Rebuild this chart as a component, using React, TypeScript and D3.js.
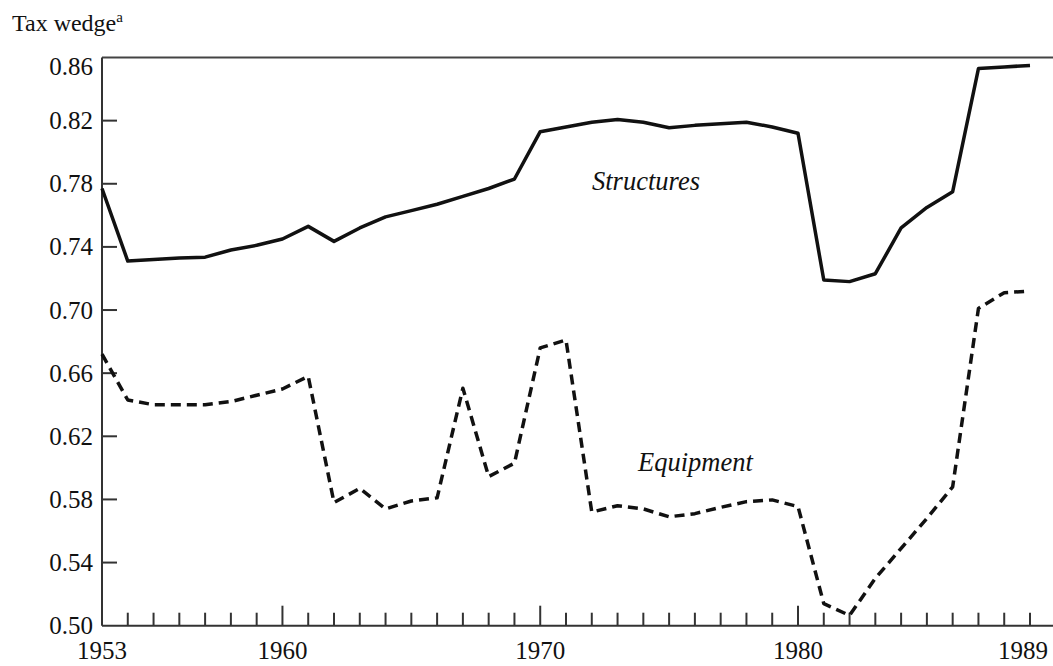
import React from "react";
import * as d3 from "d3";

const years: number[] = d3.range(1953, 1990);
const structures: number[] = [
  0.777, 0.731, 0.732, 0.733, 0.7335, 0.738, 0.741, 0.745, 0.753, 0.7435,
  0.752, 0.759, 0.763, 0.767, 0.772, 0.777, 0.783, 0.813, 0.816, 0.819,
  0.8207, 0.819, 0.8155, 0.817, 0.818, 0.819, 0.816, 0.812, 0.719, 0.718,
  0.723, 0.752, 0.765, 0.775, 0.853, 0.854, 0.855,
];
const equipment: number[] = [
  0.672, 0.643, 0.640, 0.640, 0.640, 0.642, 0.646, 0.650, 0.658, 0.578,
  0.587, 0.574, 0.579, 0.581, 0.6505, 0.5945, 0.603, 0.676, 0.681, 0.572,
  0.576, 0.574, 0.569, 0.571, 0.575, 0.5786, 0.5797, 0.5755, 0.514, 0.5065,
  0.530, 0.549, 0.568, 0.588, 0.701, 0.711, 0.712,
];
const yTicks: number[] = [0.5, 0.54, 0.58, 0.62, 0.66, 0.7, 0.74, 0.78, 0.82, 0.86];
const xLabels: number[] = [1953, 1960, 1970, 1980, 1989];
const majorTicks: number[] = [1960, 1970, 1980];

const W = 1053;
const H = 666;
const FONT = "'Liberation Serif', 'Times New Roman', serif";

export default function App() {
  const x = d3.scaleLinear().domain([1953, 1989]).range([102, 1030]);
  const y = d3.scaleLinear().domain([0.5, 0.86]).range([625.7, 57.5]);
  const line = d3
    .line<number>()
    .x((_, i) => x(years[i]))
    .y((d) => y(d));
  const x0 = x(1953);
  const yb = y(0.5);
  const yt = y(0.86);
  return (
    <svg
      width={W}
      height={H}
      style={{ position: "absolute", left: 0, top: 0, background: "#fff" }}
      fontFamily={FONT}
    >
      <rect width={W} height={H} fill="#fff" />
      {/* frame */}
      <line x1={x0} x2={W} y1={yt} y2={yt} stroke="#444" strokeWidth={2} />
      <line x1={x0} x2={x0} y1={yt} y2={yb} stroke="#333" strokeWidth={2} />
      <line x1={x0} x2={W} y1={yb} y2={yb} stroke="#333" strokeWidth={2} />
      {/* y ticks */}
      {yTicks.map((t) => (
        <g key={t}>
          {t > 0.5 && t < 0.86 && (
            <line x1={x0} x2={x0 + 15} y1={y(t)} y2={y(t)} stroke="#333" strokeWidth={2} />
          )}
          <text
            x={x0 - 9}
            y={y(t) + (t === 0.86 ? 9 : 0)}
            textAnchor="end"
            dominantBaseline="central"
            fontSize={25}
            fill="#111"
          >
            {t.toFixed(2)}
          </text>
        </g>
      ))}
      {/* x ticks */}
      {years.slice(1).map((yr) => (
        <line
          key={yr}
          x1={x(yr)}
          x2={x(yr)}
          y1={yb}
          y2={yb - (majorTicks.includes(yr) ? 20 : 13)}
          stroke="#333"
          strokeWidth={2}
        />
      ))}
      {xLabels.map((yr) => (
        <text key={yr} x={x(yr) - (yr === 1989 ? 7 : 0)} y={yb + 33} textAnchor="middle" fontSize={25} fill="#111">
          {yr}
        </text>
      ))}
      {/* lines */}
      <path d={line(structures) ?? ""} fill="none" stroke="#111" strokeWidth={3.5} strokeLinejoin="round" />
      <path
        d={line(equipment) ?? ""}
        fill="none"
        stroke="#111"
        strokeWidth={3.5}
        strokeDasharray="10 6"
        strokeLinejoin="round"
      />
      {/* labels */}
      <text x={12} y={31} fontSize={24} fill="#111">
        Tax wedge
        <tspan fontSize={15} dy={-9}>a</tspan>
      </text>
      <text x={592} y={190} fontSize={26.5} fontStyle="italic" fill="#111">
        Structures
      </text>
      <text x={638} y={471} fontSize={26.5} fontStyle="italic" fill="#111">
        Equipment
      </text>
    </svg>
  );
}
